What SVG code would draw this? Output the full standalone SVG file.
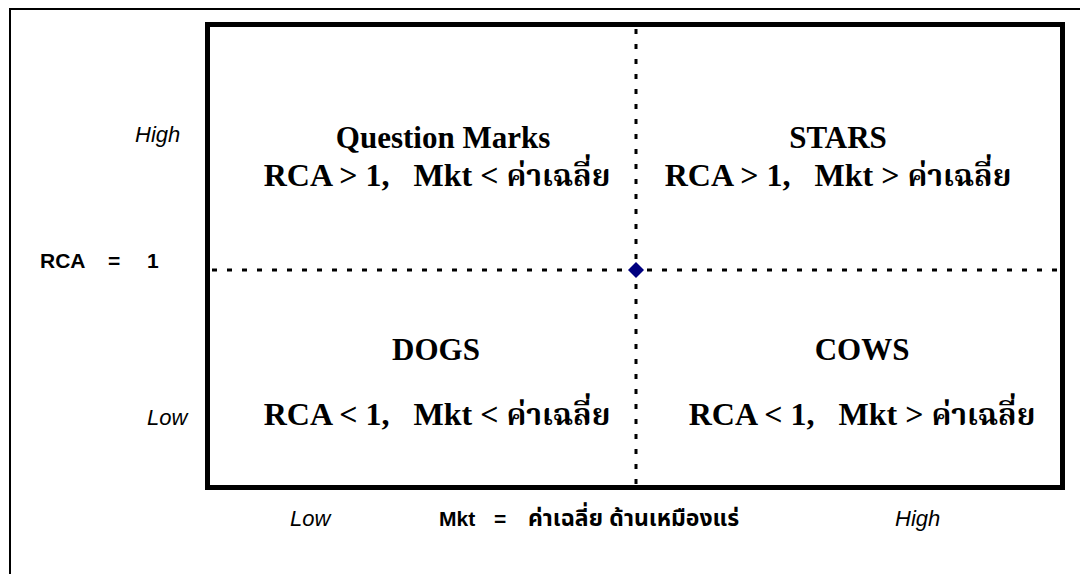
<svg xmlns="http://www.w3.org/2000/svg" width="1080" height="574" viewBox="0 0 1080 574">
<style>
.q{font-family:"Liberation Serif","Noto Serif Thai","Noto Sans Thai","DejaVu Sans",serif;font-weight:bold;font-size:31px;fill:#000;text-anchor:middle}
.r{font-family:"Liberation Serif","Noto Serif Thai","Noto Sans Thai","DejaVu Sans",serif;font-weight:bold;font-size:32px;fill:#000;text-anchor:middle}
.th{font-size:30px}
.lab{font-family:"Liberation Sans","Noto Sans Thai","DejaVu Sans",sans-serif;font-size:21px;fill:#000}
.it{font-style:italic;font-size:22px}
.b{font-weight:bold}
.thb{font-size:23px}
.dash{stroke:#000;stroke-width:3;stroke-dasharray:5 10;fill:none}
</style>
<rect x="0" y="0" width="1080" height="574" fill="#fff"/>
<rect x="10" y="9" width="1090" height="600" fill="none" stroke="#000" stroke-width="2"/>
<g id="frame"><rect x="207.5" y="24.5" width="855" height="463" fill="none" stroke="#000" stroke-width="5"/></g>
<g id="connectors"><line class="dash" x1="212" y1="270" x2="1060" y2="270"/><line class="dash" x1="636" y1="29" x2="636" y2="485"/></g>
<g id="center"><polygon points="636,262 644,270 636,278 628,270" fill="#000080"/></g>
<g id="question-marks"><text class="q" x="443" y="148">Question Marks</text><text class="r" x="437" y="186">RCA &gt; 1,<tspan dx="24">Mkt &lt; </tspan><tspan class="th">ค่าเฉลี่ย</tspan></text></g>
<g id="stars"><text class="q" x="838" y="148">STARS</text><text class="r" x="838" y="186">RCA &gt; 1,<tspan dx="24">Mkt &gt; </tspan><tspan class="th">ค่าเฉลี่ย</tspan></text></g>
<g id="dogs"><text class="q" x="436" y="360">DOGS</text><text class="r" x="437" y="425">RCA &lt; 1,<tspan dx="24">Mkt &lt; </tspan><tspan class="th">ค่าเฉลี่ย</tspan></text></g>
<g id="cows"><text class="q" x="862" y="360">COWS</text><text class="r" x="862" y="425">RCA &lt; 1,<tspan dx="24">Mkt &gt; </tspan><tspan class="th">ค่าเฉลี่ย</tspan></text></g>
<g id="axis-labels">
<text class="lab it" x="135" y="142">High</text>
<text class="lab it" x="147" y="425">Low</text>
<text class="lab b" x="40" y="268">RCA<tspan x="108">=</tspan><tspan x="147">1</tspan></text>
<text class="lab it" x="290" y="526">Low</text>
<text class="lab b" x="439" y="526">Mkt<tspan x="494">=</tspan><tspan class="thb" x="528">ค่าเฉลี่ย ด้านเหมืองแร่</tspan></text>
<text class="lab it" x="895" y="526">High</text>
</g>
</svg>
